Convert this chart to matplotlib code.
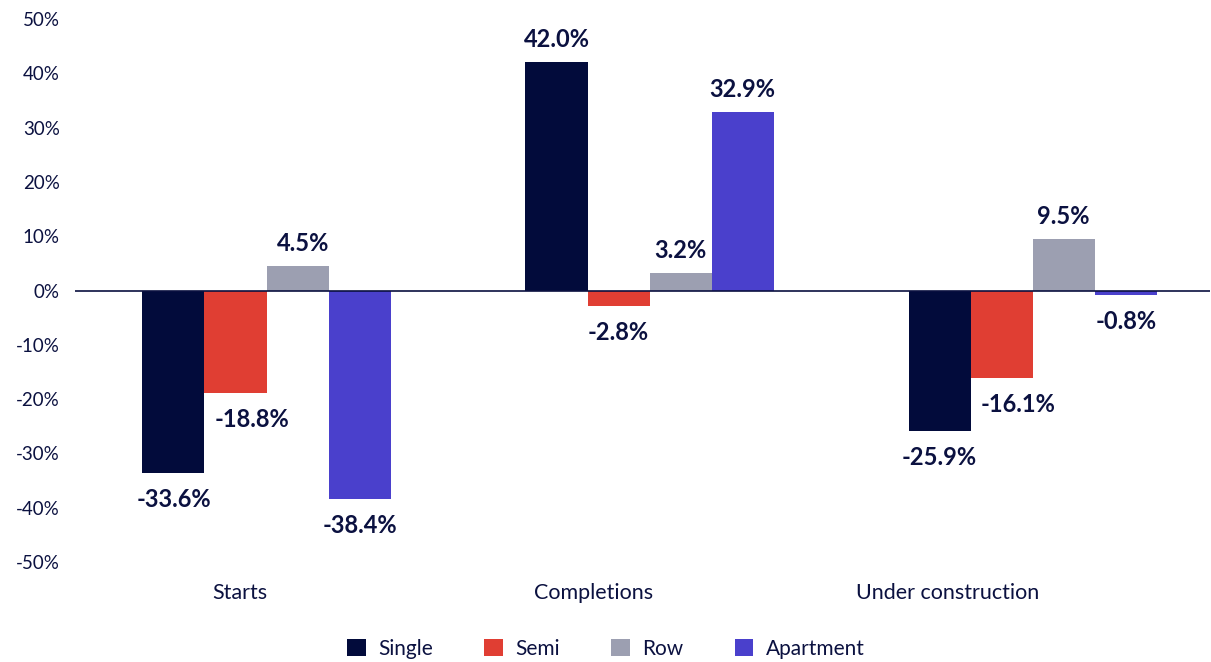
import matplotlib
matplotlib.use("Agg")
import matplotlib.pyplot as plt
from matplotlib.patches import Patch
import numpy as np

categories = ["Starts", "Completions", "Under construction"]
series_names = ["Single", "Semi", "Row", "Apartment"]
single = [-33.6, 42.0, -25.9]
semi = [-18.8, -2.8, -16.1]
row = [4.5, 3.2, 9.5]
apartment = [-38.4, 32.9, -0.8]
y_ticks = [-50, -40, -30, -20, -10, 0, 10, 20, 30, 40, 50]

colors = ["#020B3B", "#E03E33", "#9C9FB1", "#4A40CC"]
text_color = "#0B1140"

plt.rcParams["font.family"] = ["Lato", "DejaVu Sans"]

W, H = 1211, 662
fig = plt.figure(figsize=(W / 100, H / 100), dpi=100)
ax = fig.add_axes([75 / W, 1 - 562 / H, 1135 / W, 543 / H])

values = [single, semi, row, apartment]
x = np.arange(len(categories))
bw = 0.162
offsets = [-1.5 * bw, -0.5 * bw, 0.5 * bw, 1.5 * bw]
# horizontal nudges (points) for labels that would crowd a neighbour
nudge = {(1, 0): 12, (1, 2): 12, (2, 0): 4}

for si, (vals, col, name) in enumerate(zip(values, colors, series_names)):
    xs = x + offsets[si]
    ax.bar(xs, vals, width=bw, color=col, label=name, zorder=2)
    for ci, (xx, v) in enumerate(zip(xs, vals)):
        dy = 8 if v >= 0 else -11
        ax.annotate(f"{v:.1f}%", (xx, v), xytext=(nudge.get((si, ci), 0), dy),
                    textcoords="offset points", ha="center",
                    va="bottom" if v >= 0 else "top",
                    fontsize=17, fontweight="bold", color=text_color)

ax.axhline(0, color=text_color, lw=1.2, zorder=3)
ax.set_xlim(-0.5, 2.463)
ax.set_ylim(-50, 50)
ax.set_yticks(y_ticks)
ax.set_yticklabels([f"{t}%" for t in y_ticks])
# category labels sit on a slightly tighter pitch than the bar groups
ax.set_xticks(x * 0.923 - 0.069)
ax.set_xticklabels(categories)
ax.tick_params(axis="both", length=0, colors=text_color)
ax.tick_params(axis="y", pad=11, labelsize=13.5)
ax.tick_params(axis="x", pad=15, labelsize=15.5)
for s in ax.spines.values():
    s.set_visible(False)

handles = [Patch(facecolor=c, label=n) for c, n in zip(colors, series_names)]
leg = fig.legend(handles=handles, loc="center", bbox_to_anchor=(606 / W, 1 - 649 / H),
                 ncol=4, frameon=False, fontsize=15, handlelength=0.9, handleheight=0.9,
                 columnspacing=2.45, handletextpad=0.6)
for t in leg.get_texts():
    t.set_color(text_color)

fig.savefig("out.png", dpi=100)
